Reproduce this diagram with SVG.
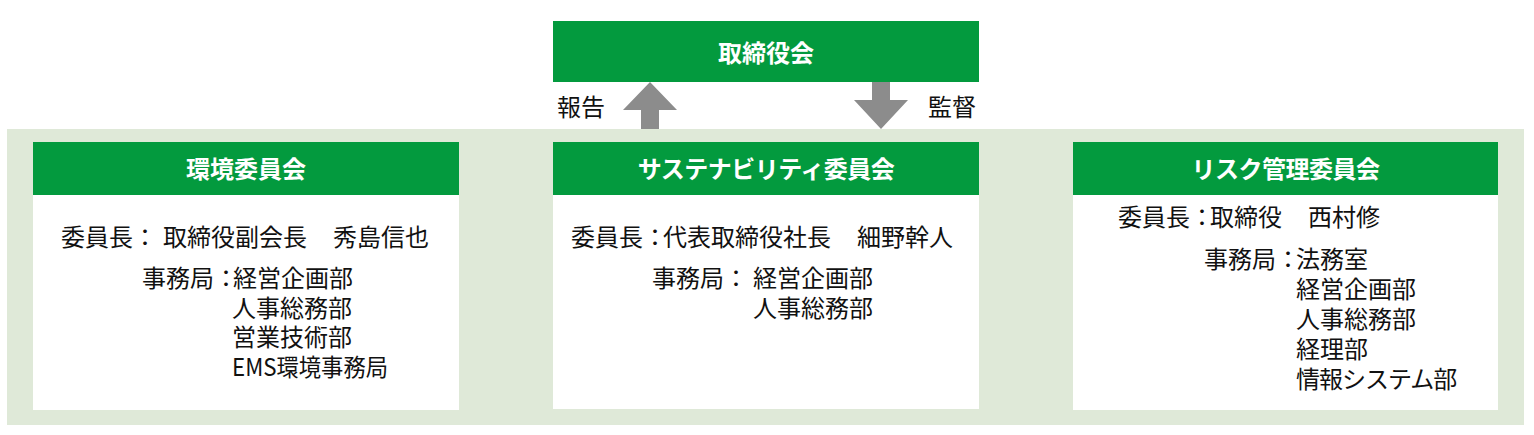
<svg xmlns="http://www.w3.org/2000/svg" width="1534" height="435" viewBox="0 0 1534 435">
<style>
.hdr{fill:#039A3E}
.body{fill:#FFFFFF}
.band{fill:#DFE9D8}
.arrow{fill:#8C8C8C}
.t{font-family:"Noto Sans CJK JP","Noto Sans",sans-serif;font-size:24px;fill:#111}
.h{font-family:"Noto Sans CJK JP","Noto Sans",sans-serif;font-size:24px;font-weight:bold;fill:#FFFFFF;text-anchor:middle}
</style>
<rect width="1534" height="435" fill="#FFFFFF"/>
<rect class="band" x="7" y="129" width="1517" height="296"/>
<g id="board">
<rect class="hdr" x="553" y="21" width="426" height="61"/>
<text class="h" x="766" y="62">取締役会</text>
</g>
<g id="connectors">
<polygon class="arrow" points="650,82 677,110 659,110 659,129 641,129 641,110 623,110"/>
<polygon class="arrow" points="872,82 890,82 890,100 908,100 881,129 854,100 872,100"/>
<text class="t" x="557" y="116">報告</text>
<text class="t" x="928" y="116">監督</text>
</g>
<g id="env-committee">
<rect class="body" x="33" y="142" width="426" height="268"/>
<rect class="hdr" x="33" y="142" width="426" height="53"/>
<text class="h" x="246" y="178">環境委員会</text>
<text class="t" y="246"><tspan x="61">委員長：</tspan><tspan x="163">取締役副会長</tspan><tspan x="333">秀島信也</tspan></text>
<text class="t" y="287"><tspan x="142">事務局：</tspan><tspan x="233">経営企画部</tspan><tspan x="232" dy="30">人事総務部</tspan><tspan x="232" dy="29">営業技術部</tspan><tspan x="232" dy="30" textLength="156" lengthAdjust="spacingAndGlyphs">EMS環境事務局</tspan></text>
</g>
<g id="sustainability-committee">
<rect class="body" x="553" y="142" width="426" height="267"/>
<rect class="hdr" x="553" y="142" width="426" height="53"/>
<text class="h" x="766" y="178" letter-spacing="-0.5">サステナビリティ委員会</text>
<text class="t" y="246"><tspan x="571">委員長：</tspan><tspan x="663">代表取締役社長</tspan><tspan x="857">細野幹人</tspan></text>
<text class="t" y="287"><tspan x="652">事務局：</tspan><tspan x="753">経営企画部</tspan><tspan x="753" dy="30">人事総務部</tspan></text>
</g>
<g id="risk-committee">
<rect class="body" x="1073" y="142" width="425" height="268"/>
<rect class="hdr" x="1073" y="142" width="425" height="53"/>
<text class="h" x="1285.5" y="178" letter-spacing="-0.5">リスク管理委員会</text>
<text class="t" y="226"><tspan x="1118">委員長：</tspan><tspan x="1210">取締役</tspan><tspan x="1308">西村修</tspan></text>
<text class="t" y="268"><tspan x="1204">事務局：</tspan><tspan x="1296">法務室</tspan><tspan x="1296" dy="30">経営企画部</tspan><tspan x="1296" dy="30">人事総務部</tspan><tspan x="1296" dy="30">経理部</tspan><tspan x="1296" dy="30" letter-spacing="-1">情報システム部</tspan></text>
</g>
</svg>
